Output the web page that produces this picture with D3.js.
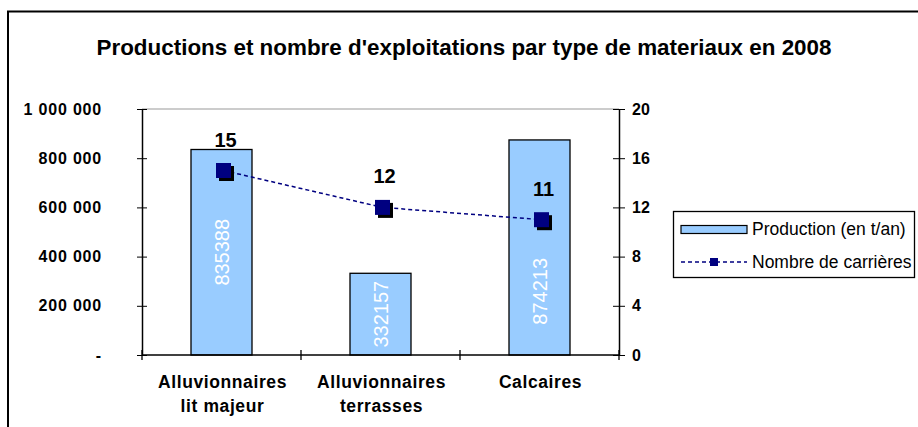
<!DOCTYPE html>
<html>
<head>
<meta charset="utf-8">
<script src="https://cdn.jsdelivr.net/npm/d3@7"></script>
<style>
  body { margin: 0; background: #fff; }
  svg { display: block; font-family: "Liberation Sans", Arial, sans-serif; }
</style>
</head>
<body>
<div id="chart"></div>
<script>
// data
const categories = [["Alluvionnaires", "lit majeur"], ["Alluvionnaires", "terrasses"], ["Calcaires"]]
const production = [835388, 332157, 874213]
const carrieres = [15, 12, 11]
const leftTicks = [0, 200000, 400000, 600000, 800000, 1000000]
const rightTicks = [0, 4, 8, 12, 16, 20]
const seriesNames = ["Production (en t/an)", "Nombre de carrières"]
const title = "Productions et nombre d'exploitations par type de materiaux en 2008"

const W = 918, H = 427
const plot = {left: 142, right: 619, top: 109, bottom: 355}

let svg = d3.select('#chart').append('svg').attr('width', W).attr('height', H)

// outer frame (runs off right/bottom)
svg.append('path')
  .attr('d', `M8,${H + 5}V11.5H${W + 5}`)
  .attr('fill', 'none').attr('stroke', '#000').attr('stroke-width', 2)

svg.append('text')
  .attr('x', 464).attr('y', 55)
  .attr('text-anchor', 'middle')
  .attr('font-family', '"Liberation Sans Narrow", "Arial Narrow", "Liberation Sans", sans-serif')
  .attr('font-size', 22).attr('font-weight', 'bold')
  .attr('textLength', 735).attr('lengthAdjust', 'spacingAndGlyphs')
  .text(title)

let data = categories.map((c, i) => ({cat: c, key: i, prod: production[i], n: carrieres[i]}))

let x = d3.scaleBand().domain(data.map(d => d.key)).range([plot.left, plot.right])
let yL = d3.scaleLinear().domain([0, 1000000]).range([plot.bottom, plot.top])
let yR = d3.scaleLinear().domain([0, 20]).range([plot.bottom, plot.top])

// top border of plot area
svg.append('line')
  .attr('x1', plot.left).attr('x2', plot.right)
  .attr('y1', plot.top).attr('y2', plot.top)
  .attr('stroke', '#999').attr('stroke-width', 1)

// bars
let barW = 61
svg.selectAll('rect.bar').data(data).enter().append('rect')
  .attr('class', 'bar')
  .attr('x', d => x(d.key) + x.bandwidth() / 2 - barW / 2)
  .attr('y', d => yL(d.prod))
  .attr('width', barW)
  .attr('height', d => yL(0) - yL(d.prod))
  .attr('fill', '#99ccff').attr('stroke', '#000').attr('stroke-width', 1.3)

// value labels inside bars, moved below the marker when they would overlap it
svg.selectAll('text.val').data(data).enter().append('text')
  .attr('class', 'val')
  .attr('transform', d => {
    let cx = x(d.key) + x.bandwidth() / 2
    let mid = (yL(d.prod) + yL(0)) / 2
    let m = yR(d.n)
    if (Math.abs(mid - m) < 45) mid = (m + 8 + yL(0)) / 2
    return `translate(${cx + 7},${mid}) rotate(-90)`
  })
  .attr('text-anchor', 'middle')
  .attr('font-size', 20).attr('fill', '#fff')
  .text(d => d.prod)

// left axis
let fmt = v => v === 0 ? '-' : d3.format(',')(v).replace(/,/g, ' ')
let axL = svg.append('g').attr('transform', `translate(${plot.left},0)`)
  .call(d3.axisLeft(yL).tickValues(leftTicks).tickFormat(fmt).tickSizeInner(5).tickSizeOuter(0).tickPadding(35))
axL.selectAll('.tick line').attr('x1', 5).attr('x2', -5)
axL.select('.domain').attr('stroke-width', 1.5)
axL.selectAll('text').attr('font-size', 16).attr('font-weight', 'bold').attr('fill', '#000')
  .attr('letter-spacing', 0.8)
  .attr('font-family', 'Liberation Sans, Arial, sans-serif')

// right axis
let axR = svg.append('g').attr('transform', `translate(${plot.right},0)`)
  .call(d3.axisRight(yR).tickValues(rightTicks).tickSizeInner(6).tickSizeOuter(0).tickPadding(7))
axR.selectAll('.tick line').attr('x1', -6).attr('x2', 6)
axR.select('.domain').attr('stroke-width', 1.5)
axR.selectAll('text').attr('font-size', 16).attr('font-weight', 'bold').attr('fill', '#000')
  .attr('font-family', 'Liberation Sans, Arial, sans-serif')

// bottom axis with ticks between categories
let gB = svg.append('g')
gB.append('line').attr('x1', plot.left).attr('x2', plot.right)
  .attr('y1', plot.bottom).attr('y2', plot.bottom).attr('stroke', '#000').attr('stroke-width', 1.5)
let bounds = data.map(d => x(d.key)).concat([plot.right])
gB.selectAll('line.tk').data(bounds).enter().append('line')
  .attr('class', 'tk')
  .attr('x1', d => d).attr('x2', d => d)
  .attr('y1', plot.bottom - 5).attr('y2', plot.bottom + 5)
  .attr('stroke', '#000').attr('stroke-width', 1.3)
let cl = gB.selectAll('text.cat').data(data).enter().append('text')
  .attr('class', 'cat')
  .attr('x', d => x(d.key) + x.bandwidth() / 2)
  .attr('text-anchor', 'middle')
  .attr('font-size', 17.5).attr('font-weight', 'bold').attr('letter-spacing', 0.6)
cl.selectAll('tspan').data(d => d.cat.map(t => ({t, cx: x(d.key) + x.bandwidth() / 2 + 1}))).enter().append('tspan')
  .attr('x', d => d.cx)
  .attr('y', (d, i) => 388 + i * 24)
  .text(d => d.t)

// line series
let line = d3.line().x(d => x(d.key) + x.bandwidth() / 2 + 2).y(d => yR(d.n))
svg.append('path').attr('d', line(data))
  .attr('fill', 'none').attr('stroke', '#000080').attr('stroke-width', 1.5)
  .attr('stroke-dasharray', '4,3')

let ms = 15
let mk = svg.selectAll('g.mk').data(data).enter().append('g').attr('class', 'mk')
  .attr('transform', d => `translate(${x(d.key) + x.bandwidth() / 2 + 2},${yR(d.n)})`)
mk.append('rect').attr('x', -ms / 2 + 3).attr('y', -ms / 2 + 3).attr('width', ms).attr('height', ms).attr('fill', '#000')
mk.append('rect').attr('x', -ms / 2).attr('y', -ms / 2).attr('width', ms).attr('height', ms).attr('fill', '#000080')

svg.selectAll('text.n').data(data).enter().append('text')
  .attr('class', 'n')
  .attr('x', d => x(d.key) + x.bandwidth() / 2 + 4)
  .attr('y', d => yR(d.n) - 24)
  .attr('text-anchor', 'middle')
  .attr('font-size', 20).attr('font-weight', 'bold')
  .text(d => d.n)

// legend
let lg = svg.append('g')
lg.append('rect').attr('x', 673.5).attr('y', 211.5).attr('width', 241).attr('height', 66)
  .attr('fill', '#fff').attr('stroke', '#000').attr('stroke-width', 1.3)
lg.append('rect').attr('x', 681).attr('y', 225.5).attr('width', 66).attr('height', 8)
  .attr('fill', '#99ccff').attr('stroke', '#000').attr('stroke-width', 1.2)
lg.append('line').attr('x1', 681).attr('x2', 747).attr('y1', 262).attr('y2', 262)
  .attr('stroke', '#000080').attr('stroke-width', 1.5).attr('stroke-dasharray', '4,3')
lg.append('rect').attr('x', 710).attr('y', 258).attr('width', 8).attr('height', 8).attr('fill', '#000080')
lg.selectAll('text').data(seriesNames).enter().append('text')
  .attr('x', 752).attr('y', (d, i) => 235 + i * 33)
  .attr('font-size', 17.5)
  .text(d => d)
</script>
</body>
</html>
